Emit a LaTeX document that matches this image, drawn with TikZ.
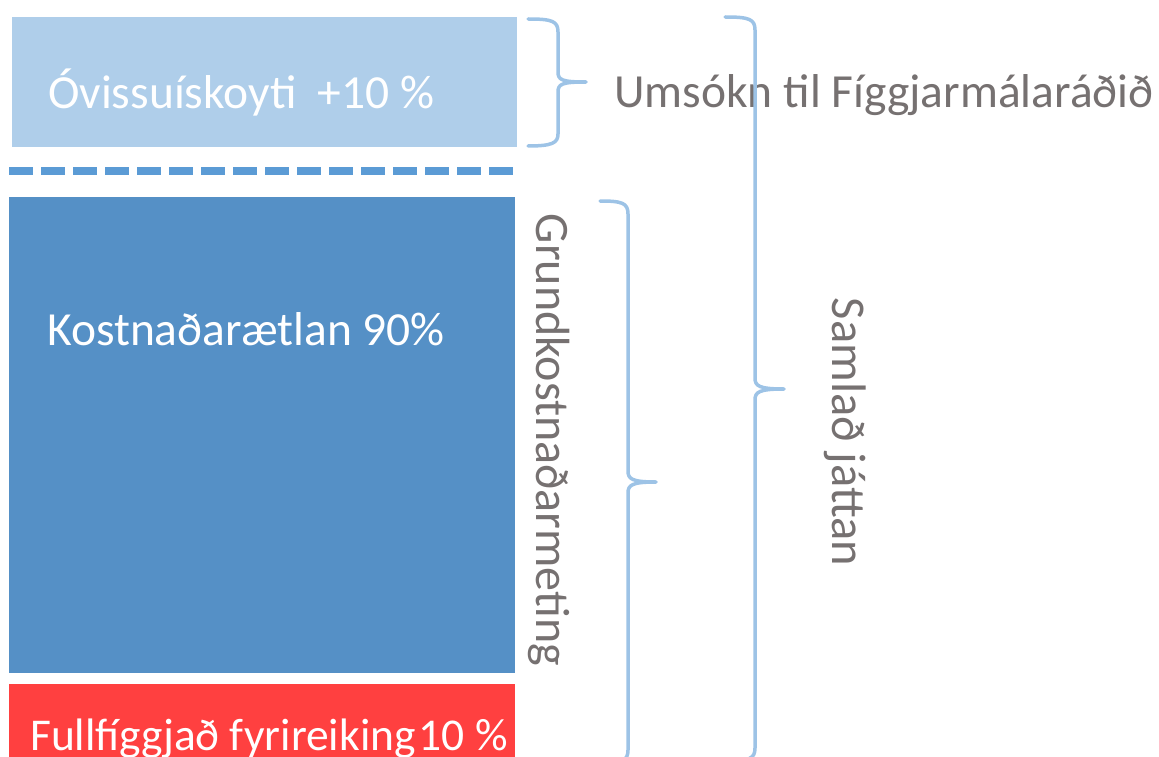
\documentclass[tikz,border=0pt]{standalone}
\usepackage{fontspec}
\setmainfont{Carlito}
\definecolor{lightbox}{HTML}{AFCEEA}
\definecolor{darkbox}{HTML}{5590C6}
\definecolor{redbox}{HTML}{FF4040}
\definecolor{dashblue}{HTML}{5B9BD5}
\definecolor{bracecol}{HTML}{9DC3E6}
\definecolor{graytext}{HTML}{767171}
\begin{document}
\begin{tikzpicture}[x=1pt,y=-1pt,
  block/.style={inner sep=0pt, outer sep=0pt, anchor=north west},
  bracestyle/.style={draw=bracecol, line width=3.5pt, line cap=round, line join=round},
  wtext/.style={text=white, inner sep=0pt, font=\fontsize{47.5}{56}\selectfont},
  gtext/.style={text=graytext, inner sep=0pt, font=\fontsize{47.5}{56}\selectfont}]
\useasboundingbox (0,0) rectangle (1159,757);
\clip (0,0) rectangle (1159,757);
% blocks
\node[block, fill=lightbox, minimum width=505pt, minimum height=130pt] (unc) at (12,17) {};
\node[block, fill=darkbox, minimum width=506pt, minimum height=476pt] (cost) at (9,197) {};
\node[block, fill=redbox, minimum width=506pt, minimum height=80pt] (red) at (9,684) {};
% dashed separator
\coordinate (dashL) at (9,171);
\coordinate (dashR) at (513,171);
\draw[dashblue, line width=8pt, dash pattern=on 24pt off 8pt] (dashL) -- (dashR);
% texts
\node[wtext, anchor=base west] (unctext) at (48,109) {Óvissuískoyti\ \ +10~\%};
\node[wtext, anchor=base west] (costtext) at (47,345) {Kostnaðarætlan 90\%};
\node[wtext, anchor=base west, font=\fontsize{45.5}{54}\selectfont] (redtext) at (30,750) {Fullfíggjað fyrireiking\hspace{3pt}10~\%};
\node[gtext, anchor=base west] (umsokn) at (614,108) {Umsókn til Fíggjarmálaráðið};
\node[gtext, rotate=-90, font=\fontsize{48}{56}\selectfont] (grund) at (549,440) {Grundkostnaðarmeting};
\node[gtext, rotate=-90, font=\fontsize{48.5}{56}\selectfont] (samlad) at (845,432) {Samlað játtan};
% braces
\coordinate (b1top) at (528,19);
\coordinate (b1tip) at (586,82);
\coordinate (b1bot) at (528,146);
\draw[bracestyle] (b1top) .. controls (552,19) and (558,21) .. (558,32) -- (558,72)
  .. controls (558,80) and (562,82) .. (b1tip)
  .. controls (562,82) and (558,84) .. (558,92) -- (558,134)
  .. controls (558,143) and (552,146) .. (b1bot);
\coordinate (b2top) at (725,17);
\coordinate (b2tip) at (784,389);
\coordinate (b2bot) at (725,761);
\draw[bracestyle] (b2top) .. controls (749,17) and (755,19) .. (755,30) -- (755,378)
  .. controls (755,386) and (759,389) .. (b2tip)
  .. controls (759,389) and (755,392) .. (755,400) -- (755,748)
  .. controls (755,759) and (749,761) .. (b2bot);
\coordinate (b3top) at (600,201);
\coordinate (b3tip) at (656,482);
\coordinate (b3bot) at (600,763);
\draw[bracestyle] (b3top) .. controls (622,201) and (628,203) .. (628,214) -- (628,471)
  .. controls (628,479) and (632,482) .. (b3tip)
  .. controls (632,482) and (628,485) .. (628,493) -- (628,750)
  .. controls (628,761) and (622,763) .. (b3bot);
\end{tikzpicture}
\end{document}
